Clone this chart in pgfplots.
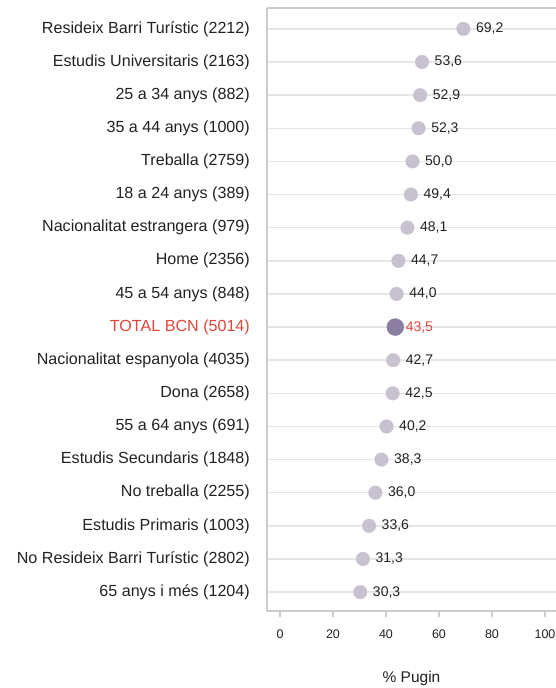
\documentclass[border=0pt]{standalone}
\usepackage{pgfplots}
\pgfplotsset{compat=1.18}
\usepackage{pgfplotstable}
\usepackage{fontspec}
\setmainfont{Liberation Sans}
\definecolor{dotlight}{HTML}{C8C1D0}
\definecolor{dotdark}{HTML}{8A7FA0}
\definecolor{totred}{HTML}{E0463A}
\definecolor{gridc}{HTML}{E6E6E6}
\definecolor{framec}{HTML}{CCCCCC}
\definecolor{txt}{HTML}{222222}

\pgfplotstableread{
x y lab
30.3 0 30,3
31.3 1 31,3
33.6 2 33,6
36.0 3 36,0
38.3 4 38,3
40.2 5 40,2
42.5 6 42,5
42.7 7 42,7
44.0 9 44,0
44.7 10 44,7
48.1 11 48,1
49.4 12 49,4
50.0 13 50,0
52.3 14 52,3
52.9 15 52,9
53.6 16 53,6
69.2 17 69,2
}\dataA

\pgfplotstableread{
x y lab
43.5 8 43,5
}\dataB

\begin{document}
\begin{tikzpicture}
\begin{axis}[
  name=ax,
  scale only axis,
  width=289pt, height=603pt,
  xmin=-4.9, xmax=104.15,
  ymin=-0.57, ymax=17.63,
  axis x line=box,
  axis y line=left,
  x axis line style={-, framec, line width=1.3pt},
  y axis line style={-, framec, line width=1.3pt},
  xtick={0,20,...,100},
  xtick pos=bottom,
  xtick align=outside,
  major tick length=6pt,
  xtick style={framec, line width=1.2pt},
  ytick={0,...,17},
  ytick style={draw=none},
  yticklabels={
    65 anys i més (1204),
    No Resideix Barri Turístic (2802),
    Estudis Primaris (1003),
    No treballa (2255),
    Estudis Secundaris (1848),
    55 a 64 anys (691),
    Dona (2658),
    Nacionalitat espanyola (4035),
    {\color{totred}TOTAL BCN (5014)},
    45 a 54 anys (848),
    Home (2356),
    Nacionalitat estrangera (979),
    18 a 24 anys (389),
    Treballa (2759),
    35 a 44 anys (1000),
    25 a 34 anys (882),
    Estudis Universitaris (2163),
    Resideix Barri Turístic (2212)
  },
  yticklabel style={font=\fontsize{16.1}{19}\selectfont, text=txt, inner sep=0pt, xshift=-14pt},
  xticklabel style={font=\fontsize{12.5}{15}\selectfont, text=txt, yshift=-9pt},
  /pgf/number format/assume math mode=true,
  ymajorgrids,
  major grid style={gridc, line width=1.5pt},
  xlabel={\% Pugin},
  xlabel style={font=\fontsize{15.5}{18}\selectfont, text=txt, at={(axis description cs:0.5,0)}, anchor=center, yshift=-67pt},
  clip=false,
]
\addplot[color=dotlight, only marks, mark=*, mark size=6.8pt, mark options={fill=dotlight, draw=dotlight, line width=0.4pt},
  point meta=explicit symbolic, nodes near coords,
  every node near coord/.append style={anchor=west, inner sep=0pt, xshift=12.5pt, font=\fontsize{14}{16}\selectfont, text=txt}]
  table[x=x, y=y, meta=lab]{\dataA};
\addplot[color=dotdark, only marks, mark=*, mark size=8.5pt, mark options={fill=dotdark, draw=dotdark, line width=0.4pt},
  point meta=explicit symbolic, nodes near coords,
  every node near coord/.append style={anchor=west, inner sep=0pt, xshift=10.3pt, font=\fontsize{14}{16}\selectfont, text=totred}]
  table[x=x, y=y, meta=lab]{\dataB};
\end{axis}
\pgfresetboundingbox
\path[use as bounding box] ([xshift=-267pt,yshift=-77pt]ax.south west) rectangle ([yshift=8pt]ax.north east);
\end{tikzpicture}
\end{document}
